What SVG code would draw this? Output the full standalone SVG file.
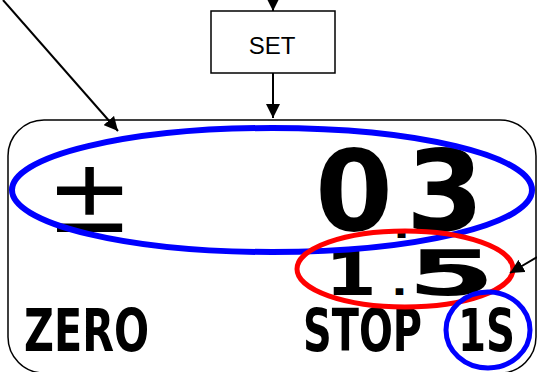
<svg xmlns="http://www.w3.org/2000/svg" width="537" height="372" viewBox="0 0 537 372">
<style>
.ln{stroke:#000;stroke-width:2;fill:none}
.lcd{font-family:"DejaVu Sans",sans-serif;font-weight:bold;fill:#000}
.lbl{font-family:"DejaVu Sans Condensed","DejaVu Sans",sans-serif;font-weight:bold;fill:#000;font-size:58px}
.set{font-family:"Liberation Sans",Arial,sans-serif;font-size:24px;fill:#000}
</style>
<defs>
<marker id="ah" viewBox="0 0 14 14" refX="14" refY="7" markerWidth="14" markerHeight="14" markerUnits="userSpaceOnUse" orient="auto">
<path d="M0,0 L14,7 L0,14 Z" fill="#000"/>
</marker>
</defs>
<g id="display">
<rect x="8" y="120" width="528" height="253" rx="36" ry="36" fill="#fff" stroke="#000" stroke-width="1.5"/>
</g>
<g id="set">
<rect x="211" y="11" width="124" height="62" fill="#fff" stroke="#000" stroke-width="1.5"/>
<text class="set" x="272" y="54" text-anchor="middle">SET</text>
</g>
<g id="sign">
<text x="46" y="232" font-family="DejaVu Sans,sans-serif" font-size="104" fill="#000">±</text>
</g>
<g id="main-value">
<text class="lcd" x="315" y="230" font-size="112">0<tspan font-size="45" dy="8">.</tspan><tspan dx="-4" dy="-8">3</tspan></text>
</g>
<g id="sub-value">
<text class="lcd" transform="translate(325,295) scale(1.2,1)" font-size="62">1<tspan font-size="36" dx="12">.</tspan></text>
<text class="lcd" transform="translate(407,295) scale(2.05,1)" font-size="62">5</text>
</g>
<g id="labels">
<text class="lbl" x="24" y="351" textLength="125" lengthAdjust="spacingAndGlyphs">ZERO</text>
<text class="lbl" x="303" y="351" textLength="119" lengthAdjust="spacingAndGlyphs">STOP</text>
<text class="lbl" x="458" y="351" textLength="57" lengthAdjust="spacingAndGlyphs">1S</text>
</g>
<g id="highlights" fill="none">
<ellipse cx="272" cy="190" rx="260" ry="62" stroke="#0000ff" stroke-width="6"/>
<ellipse cx="405" cy="269" rx="108" ry="38" stroke="#ff0000" stroke-width="5"/>
<ellipse cx="488" cy="330" rx="42" ry="38" stroke="#0000ff" stroke-width="5"/>
</g>
<g id="connectors">
<line class="ln" x1="273" y1="0" x2="273" y2="11" marker-end="url(#ah)"/>
<line class="ln" x1="273" y1="73" x2="273" y2="118" marker-end="url(#ah)"/>
<line class="ln" x1="3" y1="0" x2="118" y2="131" marker-end="url(#ah)"/>
<line class="ln" x1="537" y1="257" x2="510" y2="273" marker-end="url(#ah)"/>
</g>
</svg>
